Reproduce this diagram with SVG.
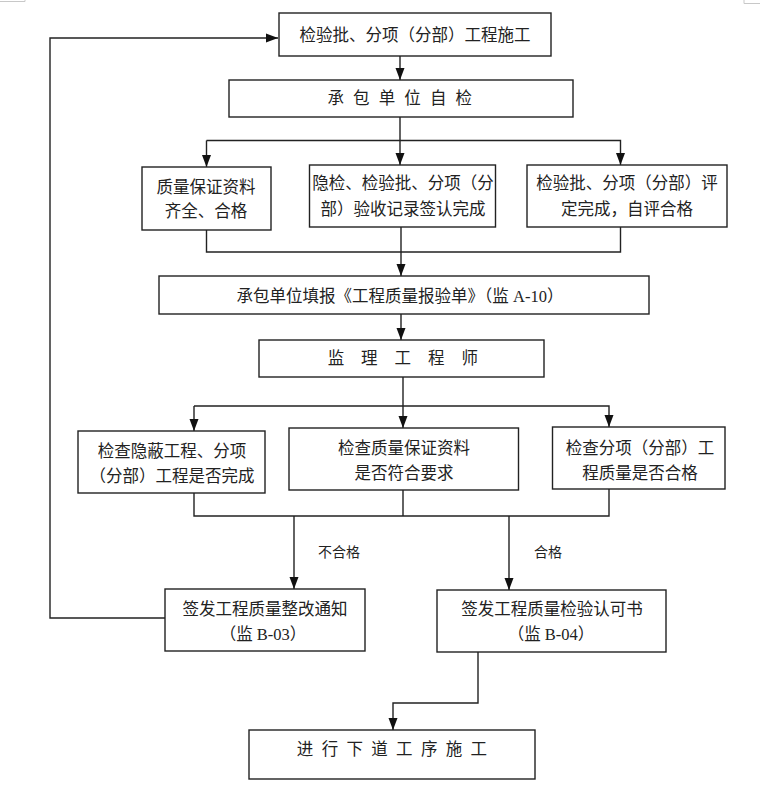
<svg xmlns="http://www.w3.org/2000/svg" width="760" height="801" viewBox="0 0 760 801">
<style>
.box{fill:#fff;stroke:#222;stroke-width:1.4}
.ln{fill:none;stroke:#222;stroke-width:1.4}
.t{font-family:"Liberation Serif","Noto Sans CJK SC",serif;font-size:16.5px;fill:#222;text-anchor:middle}
.lbl{font-family:"Liberation Sans","Noto Sans CJK SC",sans-serif;font-size:14px;fill:#222;text-anchor:middle}
.mark{stroke:#c8c8c8;stroke-width:1;fill:none}
</style>
<defs>
<marker id="ah" markerUnits="userSpaceOnUse" markerWidth="12" markerHeight="12" viewBox="0 0 12 12" refX="12" refY="6" orient="auto">
<path d="M0,1.5 L12,6 L0,10.5 Z" fill="#111"/>
</marker>
</defs>
<rect width="760" height="801" fill="#fff"/>
<g id="corner-marks">
<path class="mark" d="M0,1.5 H25 V0"/>
<path class="mark" d="M744,0 V3.5 H760"/>
</g>
<g id="connectors">
<polyline class="ln" points="165,618 50,618 50,38 278,38" marker-end="url(#ah)"/>
<line class="ln" x1="400" y1="56" x2="400" y2="80" marker-end="url(#ah)"/>
<line class="ln" x1="400" y1="117" x2="400" y2="165" marker-end="url(#ah)"/>
<polyline class="ln" points="206.5,140.5 620.5,140.5 620.5,165" marker-end="url(#ah)"/>
<line class="ln" x1="206.5" y1="140.5" x2="206.5" y2="167" marker-end="url(#ah)"/>
<polyline class="ln" points="206.5,230 206.5,252 620.5,252 620.5,227"/>
<line class="ln" x1="401" y1="227" x2="401" y2="276" marker-end="url(#ah)"/>
<line class="ln" x1="401" y1="314" x2="401" y2="340" marker-end="url(#ah)"/>
<line class="ln" x1="403" y1="377" x2="403" y2="428" marker-end="url(#ah)"/>
<polyline class="ln" points="194,406 609,406 609,427" marker-end="url(#ah)"/>
<line class="ln" x1="194" y1="406" x2="194" y2="431" marker-end="url(#ah)"/>
<polyline class="ln" points="194,493 194,516 609,516 609,489"/>
<line class="ln" x1="403" y1="490" x2="403" y2="516"/>
<line class="ln" x1="294" y1="516" x2="294" y2="589" marker-end="url(#ah)"/>
<line class="ln" x1="509" y1="516" x2="509" y2="590" marker-end="url(#ah)"/>
<polyline class="ln" points="478,652 478,703 393,703 393,730" marker-end="url(#ah)"/>
<text class="lbl" x="339" y="557">不合格</text>
<text class="lbl" x="548" y="557">合格</text>
</g>
<g id="n1">
<rect class="box" x="279" y="13" width="272" height="43"/>
<text class="t" x="415" y="41">检验批、分项（分部）工程施工</text>
</g>
<g id="n2">
<rect class="box" x="229" y="80" width="344" height="37"/>
<text class="t" x="401" y="104" style="letter-spacing:2.5px">承 包 单 位 自 检</text>
</g>
<g id="n3a">
<rect class="box" x="142" y="167" width="129" height="63"/>
<text class="t" x="206" y="193">质量保证资料</text>
<text class="t" x="206" y="217">齐全、合格</text>
</g>
<g id="n3b">
<rect class="box" x="309.5" y="165" width="186" height="62"/>
<text class="t" x="403" y="189">隐检、检验批、分项（分</text>
<text class="t" x="403" y="215">部）验收记录签认完成</text>
</g>
<g id="n3c">
<rect class="box" x="527" y="165" width="200" height="62"/>
<text class="t" x="627" y="189">检验批、分项（分部）评</text>
<text class="t" x="627" y="215">定完成，自评合格</text>
</g>
<g id="n4">
<rect class="box" x="159" y="276" width="490" height="38"/>
<text class="t" x="400" y="302">承包单位填报《工程质量报验单》（监 A-10）</text>
</g>
<g id="n5">
<rect class="box" x="259" y="340" width="285" height="37"/>
<text class="t" x="406" y="364" style="letter-spacing:6.4px">监 理 工 程 师</text>
</g>
<g id="n6a">
<rect class="box" x="78" y="431" width="187" height="62"/>
<text class="t" x="172" y="457">检查隐蔽工程、分项</text>
<text class="t" x="172" y="482">（分部）工程是否完成</text>
</g>
<g id="n6b">
<rect class="box" x="289" y="428" width="229.5" height="62"/>
<text class="t" x="404" y="454">检查质量保证资料</text>
<text class="t" x="404" y="479">是否符合要求</text>
</g>
<g id="n6c">
<rect class="box" x="552.5" y="427" width="172.5" height="62"/>
<text class="t" x="640" y="454">检查分项（分部）工</text>
<text class="t" x="640" y="479">程质量是否合格</text>
</g>
<g id="n7a">
<rect class="box" x="165" y="589" width="200" height="62"/>
<text class="t" x="265" y="615">签发工程质量整改通知</text>
<text class="t" x="263" y="640">（监 B-03）</text>
</g>
<g id="n7b">
<rect class="box" x="437" y="590" width="229" height="62"/>
<text class="t" x="552" y="615">签发工程质量检验认可书</text>
<text class="t" x="551" y="640">（监 B-04）</text>
</g>
<g id="n8">
<rect class="box" x="249" y="730" width="286" height="49"/>
<text class="t" x="393" y="755" style="letter-spacing:2.1px">进 行 下 道 工 序 施 工</text>
</g>
</svg>
